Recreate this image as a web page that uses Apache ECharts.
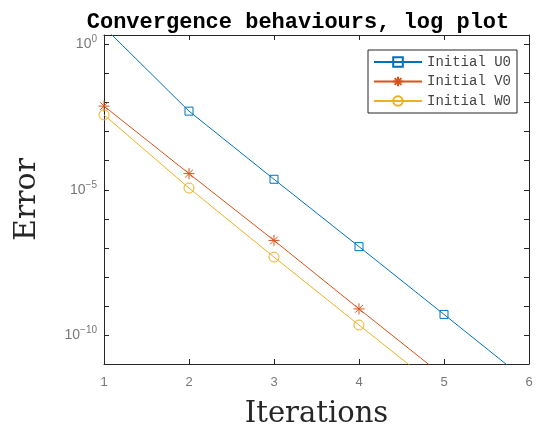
<!DOCTYPE html>
<html>
<head>
<meta charset="utf-8">
<script src="https://cdn.jsdelivr.net/npm/echarts@6/dist/echarts.min.js"></script>
<style>
  html, body { margin: 0; padding: 0; background: #fff; }
  #chart { width: 545px; height: 428px; }
</style>
</head>
<body>
<div id="chart"></div>
<script>
// iterations and errors
var iterations = [1, 2, 3, 4, 5, 6];
var errU0 = [4.0, 5.1e-3, 2.3e-5, 1.1e-7, 5.1e-10, 2.3e-12];
var errV0 = [7.6e-3, 3.6e-5, 1.8e-7, 7.9e-10, 3.7e-12];
var errW0 = [3.8e-3, 1.15e-5, 4.8e-8, 2.2e-10, 1.05e-12];
var seriesNames = ['Initial U0', 'Initial V0', 'Initial W0'];
var colors = ['#0072BD', '#D95319', '#EDB120'];

// y axis works in decades (log10 of the error)
var yMinDecade = -11;
var yMaxDecade = 0.33;

var starPath = 'path://M0,-1L0,1M-1,0L1,0M-0.7,-0.7L0.7,0.7M-0.7,0.7L0.7,-0.7';

function pairs(ys) {
  return ys.map(function (y, i) { return [iterations[i], Math.log10(y)]; });
}

function yLabel(value) {
  var e = Math.round(value);
  if (Math.abs(value - e) > 0.01 || e % 5 !== 0) return '';
  return '{b|10}{s|' + (e < 0 ? '\u2212' + (-e) : e) + '}';
}

var axisCol = '#262626';
var tickStyle = { show: true, inside: true, length: 5, lineStyle: { color: axisCol, width: 1 } };
var lineStyle = { show: true, onZero: false, lineStyle: { color: axisCol, width: 1 } };

function makeSeries(name, ys, color, symbol, size) {
  return {
    name: name,
    type: 'line',
    data: pairs(ys),
    symbol: symbol,
    symbolSize: size,
    showAllSymbol: true,
    clip: true,
    lineStyle: { color: color, width: 1 },
    itemStyle: { color: 'rgba(0,0,0,0)', borderColor: color, borderWidth: 1 },
    emphasis: { disabled: true },
    animation: false
  };
}

var chart = echarts.init(document.getElementById('chart'));
chart.setOption({
  animation: false,
  title: {
    text: 'Convergence behaviours, log plot',
    left: 293,
    textAlign: 'center',
    top: 6,
    textStyle: { fontFamily: 'Liberation Mono', fontWeight: 'bold', fontSize: 22, color: '#000' }
  },
  legend: {
    data: seriesNames,
    orient: 'vertical',
    left: 368,
    top: 50,
    itemWidth: 48,
    itemHeight: 12,
    itemGap: 5.5,
    padding: [5, 6, 5, 5],
    borderColor: axisCol,
    borderWidth: 1,
    backgroundColor: '#fff',
    textStyle: { fontFamily: 'Liberation Mono', fontSize: 14, color: '#444' }
  },
  grid: { left: 104, top: 35, right: 16, bottom: 64, outerBoundsMode: 'none', containLabel: false },
  xAxis: [{
    type: 'value',
    min: 1,
    max: 6,
    interval: 1,
    name: 'Iterations',
    nameLocation: 'middle',
    nameGap: 36,
    nameTextStyle: { fontFamily: 'DejaVu Serif', fontSize: 29, color: '#262626' },
    axisLine: lineStyle,
    axisTick: tickStyle,
    splitLine: { show: false },
    axisLabel: { margin: 12, fontFamily: 'Liberation Sans', fontSize: 13, color: '#777' }
  }, {
    type: 'value',
    position: 'top',
    min: 1,
    max: 6,
    interval: 1,
    axisLine: lineStyle,
    axisTick: tickStyle,
    splitLine: { show: false },
    axisLabel: { show: false }
  }],
  yAxis: [{
    type: 'value',
    min: yMinDecade,
    max: yMaxDecade,
    interval: 1,
    name: 'Error',
    nameLocation: 'middle',
    nameGap: 62,
    nameTextStyle: { fontFamily: 'DejaVu Serif', fontSize: 30, color: '#262626' },
    axisLine: lineStyle,
    axisTick: tickStyle,
    splitLine: { show: false },
    axisLabel: {
      margin: 7,
      showMaxLabel: false,
      formatter: yLabel,
      rich: {
        b: { fontFamily: 'Liberation Sans', fontSize: 14, color: '#777' },
        s: { fontFamily: 'Liberation Sans', fontSize: 10, color: '#777', padding: [0, 0, 10, 0] }
      }
    }
  }, {
    type: 'value',
    position: 'right',
    min: yMinDecade,
    max: yMaxDecade,
    interval: 1,
    axisLine: lineStyle,
    axisTick: tickStyle,
    splitLine: { show: false },
    axisLabel: { show: false }
  }],
  series: [
    makeSeries(seriesNames[0], errU0, colors[0], 'rect', 8),
    makeSeries(seriesNames[1], errV0, colors[1], starPath, 11),
    makeSeries(seriesNames[2], errW0, colors[2], 'circle', 10)
  ]
});
</script>
</body>
</html>
